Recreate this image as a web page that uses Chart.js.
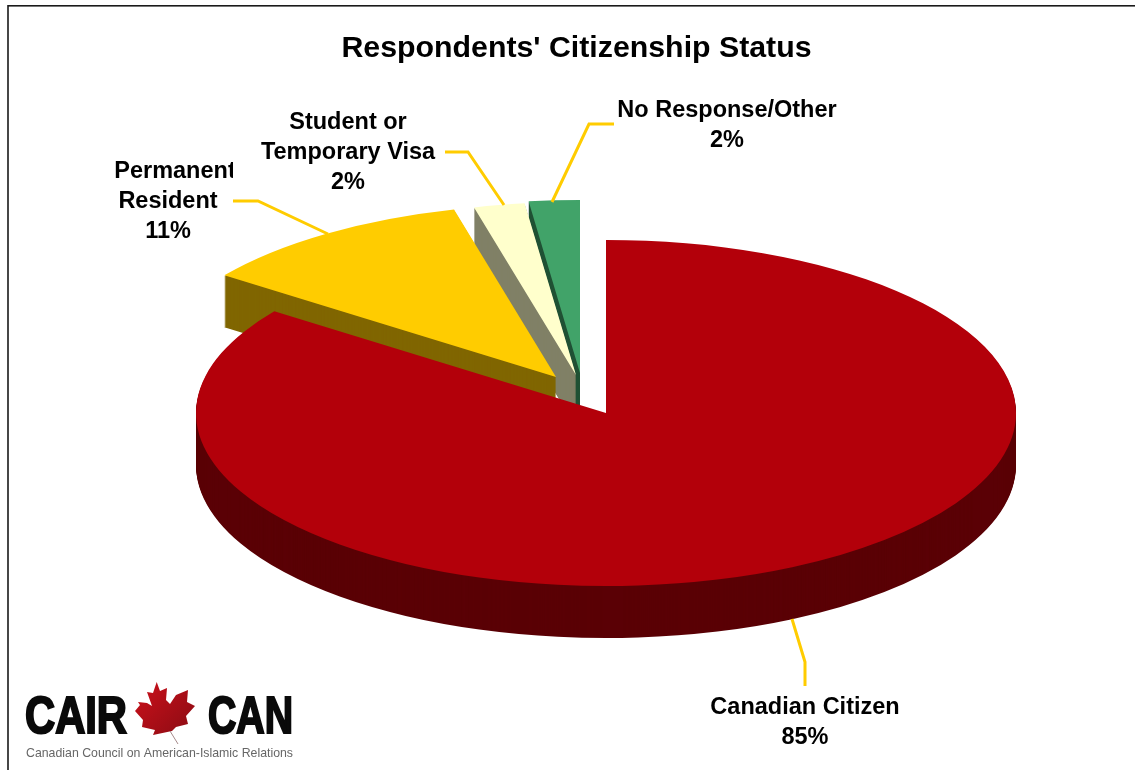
<!DOCTYPE html>
<html>
<head>
<meta charset="utf-8">
<title>Respondents' Citizenship Status</title>
<script src="https://cdn.jsdelivr.net/npm/chart.js@4/dist/chart.umd.min.js"></script>
<style>
  html, body { margin: 0; padding: 0; background: #fff; overflow: hidden; }
  #wrap { width: 1135px; height: 770px; }
</style>
</head>
<body>
<div id="wrap"><canvas id="citizenship" width="1135" height="770"></canvas></div>
<script>
// Survey results
const categories = ['Canadian Citizen', 'Permanent Resident', 'Student or Temporary Visa', 'No Response/Other'];
const shares = [85, 11, 2, 2];

// Slice colours: top face and side wall
const topColors = ['#b3000a', '#ffcc00', '#ffffcc', '#41a369'];
const sideColors = ['#5a0005', '#806600', '#808066', '#215235'];

// Where the tip of each slice sits on the page, the small ones are pulled out
const sliceTips = [[606, 413], [556, 377], [576, 375], [580, 373]];
const tilt = 0.422;
const depth = 52;
const sliceRadius = 410;

// Callouts: text lines, text centre, leader polyline. "Permanent" runs into the
// edge of its text box, so it sits a little right and loses the end of the t.
const callouts = [
  { lines: ['Canadian Citizen', '85%'], x: 805, y: 707.5, leader: [[792, 619], [805, 662], [805, 686]] },
  { lines: ['Permanent', 'Resident', '11%'], x: 168, y: 172, firstLineShift: 7, clipRight: 233, leader: [[233, 201], [258, 201], [328, 234]] },
  { lines: ['Student or', 'Temporary Visa', '2%'], x: 348, y: 123, leader: [[445, 152], [468, 152], [504, 205]] },
  { lines: ['No Response/Other', '2%'], x: 727, y: 110.5, leader: [[614, 124], [589, 124], [552, 202]] }
];

// Maple leaf outline for the logo
const leafOutline = [
  [156.7, 682], [160, 691], [167, 688], [166, 700], [170, 704], [176, 695], [188, 690], [187, 702],
  [195, 706], [186, 716], [188, 724], [176, 727], [172, 731], [153, 735], [155, 730], [142, 727],
  [143, 720], [135, 711], [140, 705], [138, 702], [147, 703], [152, 706], [147, 692], [153, 693]
];

// Draws one slice of the pie squashed into an ellipse, tip placed on the page
function drawSlice(ctx, arc, tip, yShift, color) {
  const saved = arc.options;
  arc.options = { ...saved, backgroundColor: color };
  ctx.save();
  ctx.translate(tip[0], tip[1] + yShift);
  ctx.scale(1, tilt);
  ctx.translate(-arc.x, -arc.y);
  arc.draw(ctx);
  ctx.restore();
  arc.options = saved;
}

const tiltedPie = {
  id: 'tiltedPie',
  beforeDatasetsDraw(chart) {
    const ctx = chart.ctx;
    const arcs = chart.getDatasetMeta(0).data;
    // back slices first, the big red one goes over them
    for (let i = arcs.length - 1; i >= 0; i--) {
      for (let d = depth; d > 0; d--) {
        drawSlice(ctx, arcs[i], sliceTips[i], d, sideColors[i]);
      }
      drawSlice(ctx, arcs[i], sliceTips[i], 0, topColors[i]);
    }
    return false;
  }
};

const callout = {
  id: 'callout',
  afterDraw(chart) {
    const ctx = chart.ctx;
    ctx.save();
    ctx.font = 'bold 23.5px "Liberation Sans", Arial, sans-serif';
    ctx.textAlign = 'center';
    ctx.textBaseline = 'middle';
    callouts.forEach(c => {
      ctx.strokeStyle = '#ffcc00';
      ctx.lineWidth = 3;
      ctx.beginPath();
      c.leader.forEach((p, i) => i ? ctx.lineTo(p[0], p[1]) : ctx.moveTo(p[0], p[1]));
      ctx.stroke();

      ctx.save();
      if (c.clipRight) {
        ctx.beginPath();
        ctx.rect(0, 0, c.clipRight, chart.height);
        ctx.clip();
      }
      ctx.fillStyle = '#000';
      c.lines.forEach((line, i) => {
        const shift = i === 0 && c.firstLineShift ? c.firstLineShift : 0;
        ctx.fillText(line, c.x + shift, c.y + i * 30);
      });
      ctx.restore();
    });
    ctx.restore();
  }
};

const logo = {
  id: 'logo',
  afterDraw(chart) {
    const ctx = chart.ctx;
    ctx.save();
    ctx.filter = 'blur(0.5px)';
    ctx.fillStyle = '#0a0a0a';
    ctx.strokeStyle = '#0a0a0a';
    ctx.lineWidth = 2.2;
    ctx.lineJoin = 'miter';
    ctx.textBaseline = 'alphabetic';
    ctx.textAlign = 'left';
    ctx.font = 'bold 52px "Liberation Sans", Arial, sans-serif';
    ctx.fillText('CAIR', 25, 732.5, 102);
    ctx.strokeText('CAIR', 25, 732.5, 102);
    ctx.fillText('CAN', 208, 732.5, 85);
    ctx.strokeText('CAN', 208, 732.5, 85);

    const leafShade = ctx.createLinearGradient(140, 690, 185, 735);
    leafShade.addColorStop(0, '#c5101a');
    leafShade.addColorStop(1, '#8f0c14');
    ctx.fillStyle = leafShade;
    ctx.beginPath();
    leafOutline.forEach((p, i) => i ? ctx.lineTo(p[0], p[1]) : ctx.moveTo(p[0], p[1]));
    ctx.closePath();
    ctx.fill();
    ctx.strokeStyle = '#a58a8a';
    ctx.lineWidth = 1;
    ctx.beginPath();
    ctx.moveTo(170, 731);
    ctx.lineTo(178, 744);
    ctx.stroke();

    ctx.fillStyle = '#666';
    ctx.font = '13px "Liberation Sans", Arial, sans-serif';
    ctx.fillText('Canadian Council on American-Islamic Relations', 26, 757, 267);
    ctx.restore();

    // frame runs off the right and bottom of the page
    ctx.save();
    ctx.strokeStyle = '#1a1a1a';
    ctx.lineWidth = 1.6;
    ctx.strokeRect(8, 5.8, chart.width + 20, chart.height + 20);
    ctx.restore();
  }
};

new Chart(document.getElementById('citizenship'), {
  type: 'pie',
  data: {
    labels: categories,
    datasets: [{
      data: shares,
      backgroundColor: topColors,
      borderWidth: 0
    }]
  },
  options: {
    responsive: false,
    animation: false,
    radius: sliceRadius,
    layout: { padding: { left: 18 } },
    plugins: {
      legend: { display: false },
      tooltip: { enabled: false },
      title: {
        display: true,
        text: "Respondents' Citizenship Status",
        color: '#000',
        font: { family: '"Liberation Sans", Arial, sans-serif', size: 30.3, weight: 'bold' },
        padding: { top: 30, bottom: 10 }
      }
    }
  },
  plugins: [tiltedPie, callout, logo]
});
</script>
</body>
</html>
